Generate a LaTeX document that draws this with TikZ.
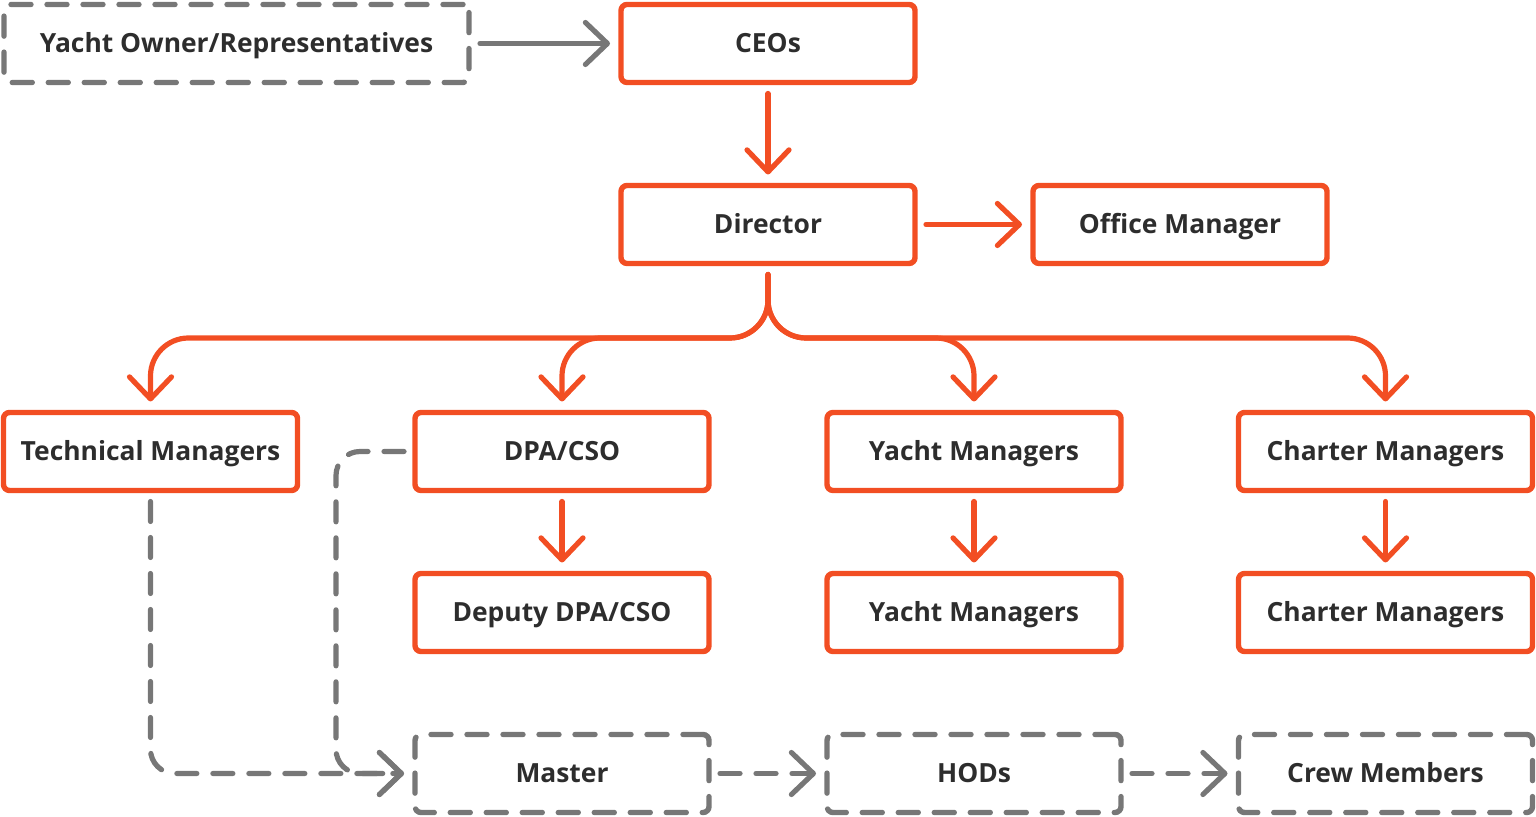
\documentclass[tikz,border=0pt]{standalone}
\usepackage{fontspec}
\setmainfont{Open Sans}
\usetikzlibrary{arrows.meta}
\definecolor{orgred}{HTML}{F24E23}
\definecolor{dgray}{HTML}{777777}
\definecolor{txt}{HTML}{2D2D2D}
\begin{document}
\begin{tikzpicture}[x=0.5pt,y=-0.5pt,
    box/.style={draw=orgred, line width=2.7pt, rounded corners=3pt, minimum width=147pt, minimum height=39pt, outer sep=5.5pt, text=txt, text height=9.4pt, text depth=0pt, font=\fontsize{13.2}{16}\selectfont\bfseries},
    dbox/.style={box, draw=dgray, dash pattern=on 10pt off 8pt, line cap=round},
    flow/.style={draw=orgred, line width=2.6pt, line cap=round, -{Straight Barb[length=11pt,width=21pt,round]}},
    gflow/.style={flow, draw=dgray},
    dflow/.style={gflow, dash pattern=on 10pt off 8pt}]
    \useasboundingbox (0,0) rectangle (1536,817);
    % top rows
    \node[dbox, minimum width=232.5pt] (owner) at (236.5,43.5) {Yacht Owner/Representatives};
    \node[box] (ceo) at (768,43.5) {CEOs};
    \node[box] (director) at (768,224.5) {Director};
    \node[box] (office) at (1180,224.5) {Office Manager};
    % managers
    \node[box] (tech) at (150.5,451.5) {Technical Managers};
    \node[box] (dpa) at (562,451.5) {DPA/CSO};
    \node[box] (ym) at (974,451.5) {Yacht Managers};
    \node[box] (cm) at (1385.5,451.5) {Charter Managers};
    \node[box] (deputy) at (562,612.5) {Deputy DPA/CSO};
    \node[box] (ym2) at (974,612.5) {Yacht Managers};
    \node[box] (cm2) at (1385.5,612.5) {Charter Managers};
    % crew
    \node[dbox] (master) at (562,773.5) {Master};
    \node[dbox] (hods) at (974,773.5) {HODs};
    \node[dbox] (crew) at (1385.5,773.5) {Crew Members};
    \coordinate (bus) at (768,338);
    \coordinate (elbow) at (336,600);
    \draw[gflow] (owner) -- (ceo);
    \draw[flow] (ceo) -- (director);
    \draw[flow] (director) -- (office);
    \foreach \n in {tech,dpa,ym,cm}
      \draw[flow, rounded corners=19pt] (director.south) |- (bus -| \n) -- (\n.north);
    \draw[flow] (dpa) -- (deputy);
    \draw[flow] (ym) -- (ym2);
    \draw[flow] (cm) -- (cm2);
    \draw[dflow, rounded corners=12pt] (tech.south) |- (master.west);
    \draw[dflow, rounded corners=12pt] (dpa.west) -| (elbow |- master.west) -- (master.west);
    \draw[dflow] (master) -- (hods);
    \draw[dflow] (hods) -- (crew);
  \end{tikzpicture}
\end{document}
